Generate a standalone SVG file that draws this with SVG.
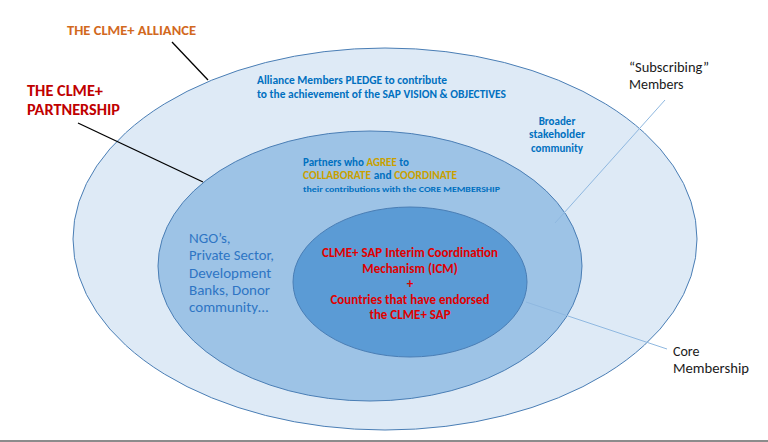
<svg xmlns="http://www.w3.org/2000/svg" width="768" height="442" viewBox="0 0 768 442">
<style>
text{font-family:Carlito,Lato,"Liberation Sans",sans-serif}
.b{font-weight:bold}
.blue{fill:#0070c0}
.gold{fill:#c9a000}
.red{fill:#e00000}
.ring{stroke:#4a7eb5;stroke-width:1}
.lead{stroke:#000;stroke-width:1.3;fill:none}
.lb{stroke:#8fb8e0;stroke-width:1;fill:none}
.blk{fill:#1a1a1a}
</style>
<rect width="768" height="442" fill="#fff"/>
<g id="alliance">
<ellipse class="ring" cx="385" cy="239" rx="312" ry="191" fill="#deeaf6"/>
<text class="b blue" font-size="11" x="257" y="84" textLength="190" lengthAdjust="spacingAndGlyphs">Alliance Members PLEDGE to contribute</text>
<text class="b blue" font-size="11" x="257" y="98" textLength="249" lengthAdjust="spacingAndGlyphs">to the achievement of the SAP VISION &amp; OBJECTIVES</text>
<text class="b blue" font-size="11" text-anchor="middle" x="557" y="125">Broader</text>
<text class="b blue" font-size="11" text-anchor="middle" x="557" y="138" textLength="56" lengthAdjust="spacingAndGlyphs">stakeholder</text>
<text class="b blue" font-size="11" text-anchor="middle" x="557" y="152">community</text>
</g>
<g id="partnership">
<ellipse class="ring" cx="370" cy="266" rx="212" ry="135" fill="#9dc3e6"/>
<text class="b" font-size="11" x="303" y="166"><tspan class="blue">Partners who </tspan><tspan class="gold">AGREE</tspan><tspan class="blue"> to</tspan></text>
<text class="b" font-size="11" x="303" y="179" textLength="154" lengthAdjust="spacingAndGlyphs"><tspan class="gold">COLLABORATE</tspan><tspan class="blue"> and </tspan><tspan class="gold">COORDINATE</tspan></text>
<text class="b blue" font-size="8.5" x="303" y="192" textLength="197" lengthAdjust="spacingAndGlyphs">their contributions with the CORE MEMBERSHIP</text>
<g font-size="15" fill="#2e75c4">
<text x="189" y="243">NGO’s,</text>
<text x="189" y="260" textLength="85" lengthAdjust="spacingAndGlyphs">Private Sector,</text>
<text x="189" y="278">Development</text>
<text x="189" y="295">Banks, Donor</text>
<text x="189" y="312">community…</text>
</g>
</g>
<g id="core">
<ellipse class="ring" cx="410" cy="282" rx="117" ry="75" fill="#5b9bd5"/>
<g class="b red" font-size="13" text-anchor="middle">
<text x="410" y="257" textLength="176" lengthAdjust="spacingAndGlyphs">CLME+ SAP Interim Coordination</text>
<text x="410" y="273">Mechanism (ICM)</text>
<text x="410" y="288">+</text>
<text x="410" y="304" textLength="159" lengthAdjust="spacingAndGlyphs">Countries that have endorsed</text>
<text x="410" y="319">the CLME+ SAP</text>
</g>
</g>
<g id="label-alliance">
<text class="b" fill="#d2691e" font-size="13" x="67" y="35" textLength="129" lengthAdjust="spacingAndGlyphs">THE CLME+ ALLIANCE</text>
</g>
<g id="label-partnership">
<text class="b" fill="#c00000" font-size="15" x="27" y="96" textLength="76" lengthAdjust="spacingAndGlyphs">THE CLME+</text>
<text class="b" fill="#c00000" font-size="15" x="27" y="115" textLength="93" lengthAdjust="spacingAndGlyphs">PARTNERSHIP</text>
</g>
<g id="label-subscribing">
<text class="blk" font-size="14" x="629" y="72" textLength="80" lengthAdjust="spacingAndGlyphs">“Subscribing”</text>
<text class="blk" font-size="14" x="629" y="89">Members</text>
</g>
<g id="label-core">
<text class="blk" font-size="14" x="673" y="356">Core</text>
<text class="blk" font-size="14" x="673" y="373" textLength="76" lengthAdjust="spacingAndGlyphs">Membership</text>
</g>
<g id="connectors">
<line class="lead" x1="172" y1="42" x2="208" y2="80"/>
<line class="lead" x1="78" y1="123" x2="203" y2="182"/>
<line class="lb" x1="665" y1="100" x2="555" y2="223"/>
<line class="lb" x1="526" y1="302" x2="667" y2="349"/>
</g>
<rect x="0" y="440" width="768" height="2" fill="#8c8c8c"/>
</svg>
